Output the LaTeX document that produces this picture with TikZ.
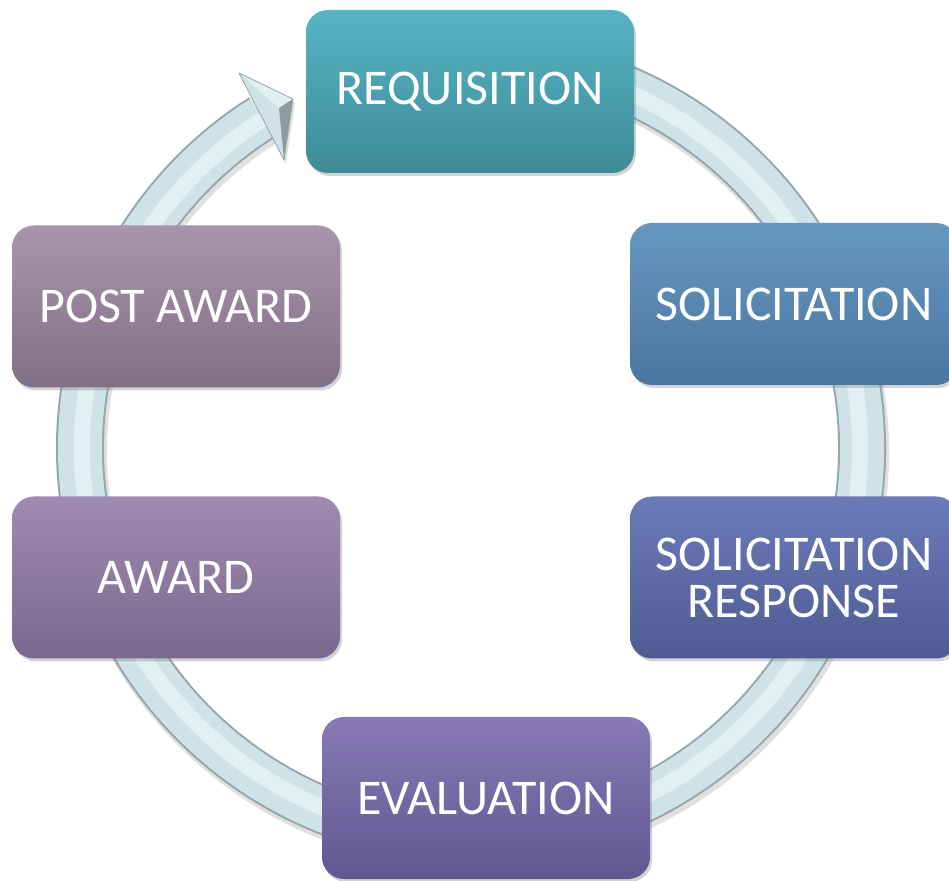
\documentclass[tikz,border=0pt]{standalone}
\usepackage{fontspec}
\setmainfont{Carlito}
\usetikzlibrary{shadows}
\definecolor{ringedge}{HTML}{94A6AB}
\definecolor{ringbody}{HTML}{CFE2E7}
\definecolor{ringhi}{HTML}{E3F0F2}
\definecolor{facetdark}{HTML}{8E9CA0}
\definecolor{reqT}{HTML}{56B4C4}\definecolor{reqB}{HTML}{3E8B97}
\definecolor{solT}{HTML}{6697C3}\definecolor{solB}{HTML}{4A76A0}
\definecolor{resT}{HTML}{6C7AB9}\definecolor{resB}{HTML}{4F5B93}
\definecolor{evaT}{HTML}{877AB6}\definecolor{evaB}{HTML}{615791}
\definecolor{awaT}{HTML}{A08BB0}\definecolor{awaB}{HTML}{7A688E}
\definecolor{posT}{HTML}{A995AB}\definecolor{posB}{HTML}{816F88}
\begin{document}
\begin{tikzpicture}[x=1pt,y=1pt,
  box/.style={rounded corners=22pt, minimum width=328pt, minimum height=162pt,
    text=white, font=\fontsize{50}{47}\selectfont, align=center, inner sep=0pt,
    drop shadow={opacity=0.35, shadow xshift=2pt, shadow yshift=-3pt}},
  ringshadow/.style={line width=50pt, black, opacity=0.12},
  ringout/.style={line width=48pt, ringedge},
  ringin/.style={line width=44pt, ringbody},
  ringlight/.style={line width=16pt, ringhi}
]
\useasboundingbox (0,0) rectangle (949,880);
\clip (0,0) rectangle (949,880);
\coordinate (c) at (471,432);
% ring
\draw[ringshadow] (473,428) ++(100:391) arc[start angle=100, end angle=-237.7, radius=391];
\draw[ringout] (c) ++(100:391) arc[start angle=100, end angle=-237.7, radius=391];
\draw[ringin] (c) ++(100:391) arc[start angle=100, end angle=-237.7, radius=391];
\draw[ringlight] (c) ++(100:389) arc[start angle=100, end angle=-237.7, radius=389];
% arrow head
\coordinate (tip) at (293,781);
\coordinate (hu) at (239,807);
\coordinate (hl) at (284,720);
\coordinate (hm) at (279,772);
\fill[black, opacity=0.12] ([shift={(2,-4)}]hu) -- ([shift={(2,-4)}]tip) -- ([shift={(2,-4)}]hl) -- cycle;
\fill[ringbody] (hu) -- (tip) -- (hl) -- cycle;
\fill[ringhi] (hu) -- (tip) -- (hm) -- cycle;
\fill[facetdark] (tip) -- (hl) -- (hm) -- cycle;
\draw[ringedge, line width=0.8pt, line join=round] (hu) -- (tip) -- (hl) -- cycle;
% boxes
\node[box, top color=reqT, bottom color=reqB, minimum height=163pt] (req) at (470,788.5) {REQUISITION};
\node[box, top color=solT, bottom color=solB] (sol) at (794,576) {SOLICITATION};
\node[box, top color=resT, bottom color=resB] (res) at (794,302.5) {SOLICITATION\\RESPONSE};
\node[box, top color=evaT, bottom color=evaB] (eva) at (486,82) {EVALUATION};
\node[box, top color=awaT, bottom color=awaB] (awa) at (176,302.5) {AWARD};
\node[box, top color=posT, bottom color=posB] (pos) at (176,573.5) {POST AWARD};
\end{tikzpicture}
\end{document}
